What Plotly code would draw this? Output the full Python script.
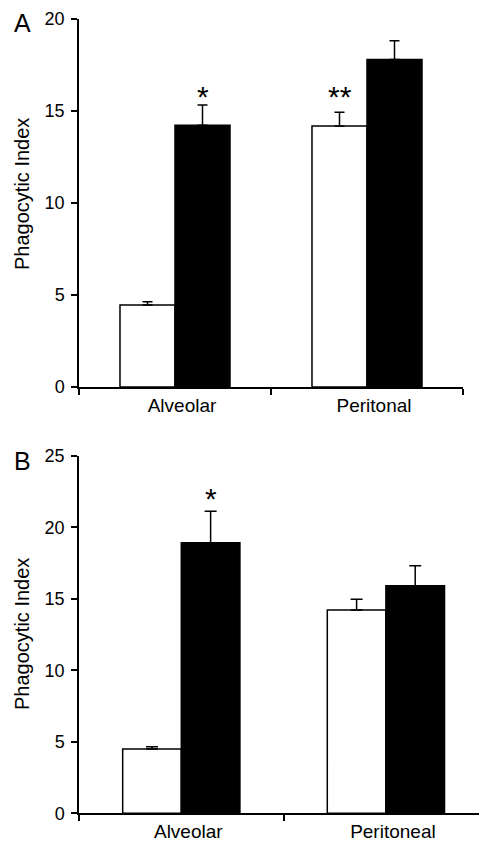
import plotly.graph_objects as go

# ---- data ----
cats_a = ["Alveolar", "Peritonal"]
ctrl_a = [4.46, 14.18]
ctrl_a_err = [0.17, 0.75]
trt_a = [14.22, 17.80]
trt_a_err = [1.10, 1.02]
stars_a = ["", "**"]          # over control bars
stars_a_trt = ["*", ""]       # over treated bars
star_y_a = 15.8

cats_b = ["Alveolar", "Peritoneal"]
ctrl_b = [4.50, 14.22]
ctrl_b_err = [0.16, 0.75]
trt_b = [18.92, 15.90]
trt_b_err = [2.20, 1.40]
stars_b_trt = ["*", ""]
star_y_b = 22.0

yticks_a = [0, 5, 10, 15, 20]
yticks_b = [0, 5, 10, 15, 20, 25]

FONT = "Liberation Sans, Arial, sans-serif"
W, H = 479, 842

fig = go.Figure()

def add_pair(cats, c, ce, t, te, xa, ya, capw):
    fig.add_trace(go.Bar(
        x=cats, y=c, xaxis=xa, yaxis=ya,
        marker=dict(color="white", line=dict(color="black", width=1.5)),
        error_y=dict(type="data", array=ce, arrayminus=[0] * len(ce), symmetric=False,
                     color="black", thickness=1.5, width=capw),
        showlegend=False))
    fig.add_trace(go.Bar(
        x=cats, y=t, xaxis=xa, yaxis=ya,
        marker=dict(color="black", line=dict(color="black", width=1.5)),
        error_y=dict(type="data", array=te, arrayminus=[0] * len(te), symmetric=False,
                     color="black", thickness=1.5, width=capw),
        showlegend=False))

add_pair(cats_a, ctrl_a, ctrl_a_err, trt_a, trt_a_err, "x", "y", 5)
add_pair(cats_b, ctrl_b, ctrl_b_err, trt_b, trt_b_err, "x2", "y2", 6)

bargap = 0.427
half = (1 - bargap) / 4  # offset of each bar center from category center

STARFONT = dict(size=30, family=FONT, color="black")
annotations = []
for i, s in enumerate(stars_a):
    if s:
        annotations.append(dict(x=i - half, y=star_y_a, xref="x", yref="y", text=s,
                                showarrow=False, font=STARFONT))
for i, s in enumerate(stars_a_trt):
    if s:
        annotations.append(dict(x=i + half, y=star_y_a, xref="x", yref="y", text=s,
                                showarrow=False, font=STARFONT))
for i, s in enumerate(stars_b_trt):
    if s:
        annotations.append(dict(x=i + half, y=star_y_b, xref="x2", yref="y2", text=s,
                                showarrow=False, font=STARFONT))

def px(xp, yp):
    return xp / W, 1 - yp / H

for lab, (xp, yp) in [("A", (22, 23)), ("B", (22, 461))]:
    x, y = px(xp, yp)
    annotations.append(dict(x=x, y=y, xref="paper", yref="paper", text=lab, showarrow=False,
                            xanchor="center", yanchor="middle",
                            font=dict(size=25, family=FONT, color="black")))
for (xp, yp) in [(22, 194), (22, 634)]:
    x, y = px(xp, yp)
    annotations.append(dict(x=x, y=y, xref="paper", yref="paper", text="Phagocytic Index",
                            showarrow=False, textangle=-90, xanchor="center", yanchor="middle",
                            font=dict(size=20, family=FONT, color="black")))

xcommon = dict(type="category", tickson="boundaries", ticks="outside", ticklen=6, tickwidth=1.5,
               tickcolor="black", showline=True, linecolor="black", linewidth=1.5,
               showgrid=False, zeroline=False, automargin=False,
               tickfont=dict(size=19, family=FONT, color="black"), ticklabelshift=7)
ycommon = dict(ticks="outside", ticklen=6, tickwidth=1.5, tickcolor="black",
               showline=True, linecolor="black", linewidth=1.5, showgrid=False,
               zeroline=False, automargin=False, ticklabelstandoff=3,
               tickfont=dict(size=18, family=FONT, color="black"))

fig.update_layout(
    width=W, height=H,
    margin=dict(l=0, r=0, t=0, b=0),
    paper_bgcolor="white", plot_bgcolor="white",
    barmode="group", bargap=bargap, bargroupgap=0,
    showlegend=False,
    xaxis=dict(domain=[79 / W, 463 / W], range=[-0.5, 1.5], anchor="y", **xcommon),
    yaxis=dict(domain=[1 - 387 / H, 1 - 19 / H], range=[0, 20], tickvals=yticks_a, anchor="x", **ycommon),
    xaxis2=dict(domain=[79 / W, 1.0], range=[-0.5, 1.455], anchor="y2", **xcommon),
    yaxis2=dict(domain=[1 - 813.3 / H, 1 - 455.7 / H], range=[0, 25], tickvals=yticks_b, anchor="x2", **ycommon),
    annotations=annotations,
)

fig.write_html("out.html")
